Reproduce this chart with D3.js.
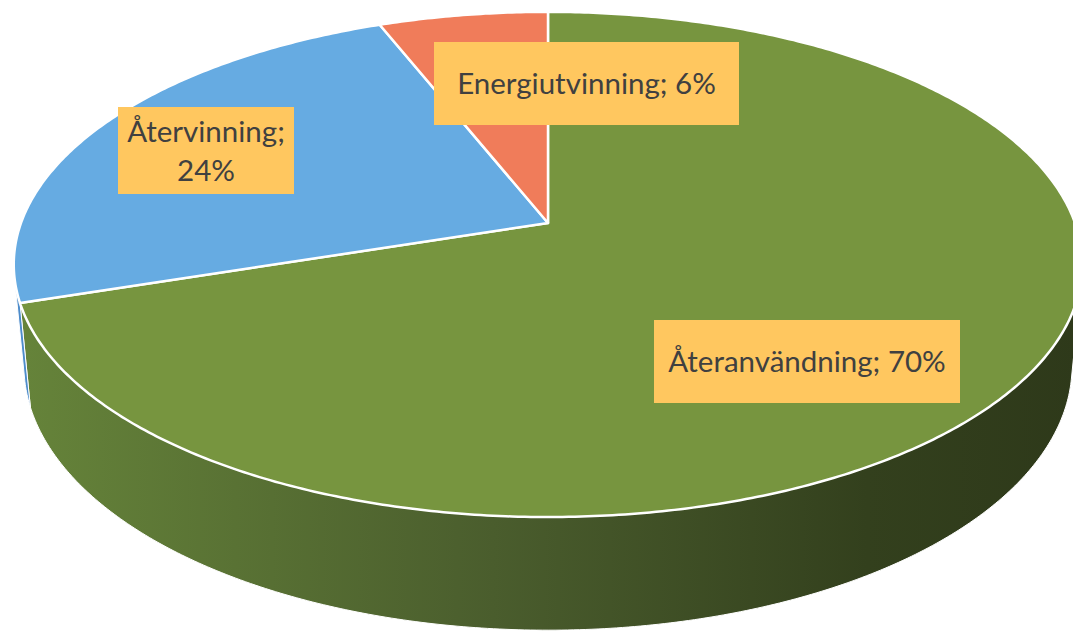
<!DOCTYPE html>
<html>
<head>
<meta charset="utf-8">
<script src="https://cdn.jsdelivr.net/npm/d3@7"></script>
<style>
  body { margin: 0; background: #fff; }
  svg { display: block; }
</style>
</head>
<body>
<div id="chart"></div>
<script>
const categories = ["Återanvändning", "Återvinning", "Energiutvinning"];
const values = [70, 24, 6];
const colors = ["#77953f", "#66abe2", "#f07c5a"];
const sideColors = [null, "#4d8ccb", "#c8623f"];

(function() {
  const width = 1073, height = 637;

  // camera / perspective of the 3d pie
  const cx = 548, cy = 223;
  const tilt = 27.8 * Math.PI / 180;
  const sn = Math.sin(tilt), cs = Math.cos(tilt);
  const dist = 5.389, focal = 2840, thick = 0.2194;

  // label boxes (layout only)
  const labelBoxes = [
    { x: 654, y: 320, w: 306, h: 83, lines: 1 },
    { x: 118, y: 107, w: 176, h: 87, lines: 2 },
    { x: 434, y: 42, w: 305, h: 83, lines: 1 }
  ];

  function project(a, w) {
    const u = Math.sin(a), v = Math.cos(a);
    const z = dist + v * cs - w * sn;
    return [cx + focal * u / z, cy - focal * (v * sn + w * cs) / z];
  }

  function arcPoints(a0, a1, w) {
    const n = Math.max(2, Math.ceil(Math.abs(a1 - a0) / 0.01));
    return d3.range(n + 1).map(i => project(a0 + (a1 - a0) * i / n, w));
  }

  const svg = d3.select("#chart")
    .append("svg")
    .attr("width", width)
    .attr("height", height);

  const grad = svg.append("defs").append("linearGradient")
    .attr("id", "sideGreen")
    .attr("gradientUnits", "userSpaceOnUse")
    .attr("x1", 14).attr("x2", 1080).attr("y1", 0).attr("y2", 0);
  grad.selectAll("stop")
    .data([[0, "#66843a"], [0.45, "#4a5d2d"], [0.8, "#33401d"], [1, "#2e391a"]])
    .enter().append("stop")
    .attr("offset", d => d[0])
    .attr("stop-color", d => d[1]);

  const pie = d3.pie().sort(null).value(d => d)
    .startAngle(0).endAngle(2 * Math.PI);
  const arcs = pie(values);

  // visible part of the outer wall
  const limit = Math.acos(-1 / (dist * cs));
  const visA0 = limit, visA1 = 2 * Math.PI - limit;

  const line = d3.line();

  // walls
  arcs.forEach(function(d, i) {
    const a0 = Math.max(d.startAngle, visA0);
    const a1 = Math.min(d.endAngle, visA1);
    if (a1 <= a0) return;
    const pts = arcPoints(a0, a1, 0).concat(arcPoints(a1, a0, -thick));
    svg.append("path")
      .attr("d", line(pts) + "Z")
      .attr("fill", i === 0 ? "url(#sideGreen)" : sideColors[i])
      .attr("stroke", "#fff")
      .attr("stroke-width", 1)
      .attr("stroke-linejoin", "round");
  });

  // top faces
  svg.selectAll(".slice")
    .data(arcs)
    .enter().append("path")
    .attr("class", "slice")
    .attr("d", d => line([[cx, cy]].concat(arcPoints(d.startAngle, d.endAngle, 0))) + "Z")
    .attr("fill", (d, i) => colors[i])
    .attr("stroke", "#fff")
    .attr("stroke-width", 2.5)
    .attr("stroke-linejoin", "round");

  // data labels
  const total = d3.sum(values);
  const labels = svg.selectAll(".label")
    .data(arcs)
    .enter().append("g")
    .attr("class", "label");

  labels.append("rect")
    .attr("x", (d, i) => labelBoxes[i].x)
    .attr("y", (d, i) => labelBoxes[i].y)
    .attr("width", (d, i) => labelBoxes[i].w)
    .attr("height", (d, i) => labelBoxes[i].h)
    .attr("fill", "#ffc75f");

  labels.each(function(d, i) {
    const b = labelBoxes[i];
    const pct = Math.round(d.value / total * 100) + "%";
    const rows = b.lines === 2 ? [categories[i] + ";", pct] : [categories[i] + "; " + pct];
    const lh = 39;
    d3.select(this).selectAll("text")
      .data(rows)
      .enter().append("text")
      .attr("x", b.x + b.w / 2)
      .attr("y", (r, j) => b.y + b.h / 2 + (j - (rows.length - 1) / 2) * lh)
      .attr("dy", "0.36em")
      .attr("text-anchor", "middle")
      .style("font-family", "Lato, 'Open Sans', sans-serif")
      .style("font-size", "29.5px")
      .style("fill", "#404040")
      .text(r => r);
  });
})();
</script>
</body>
</html>
